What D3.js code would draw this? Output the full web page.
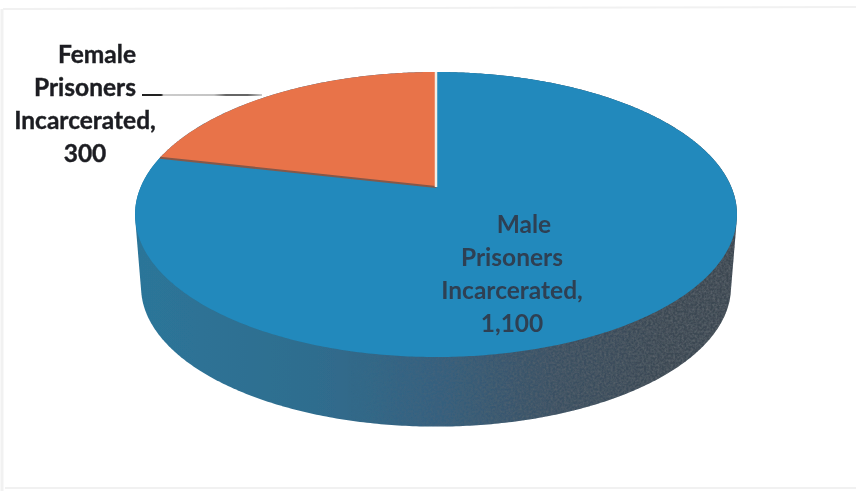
<!DOCTYPE html>
<html>
<head>
<meta charset="utf-8">
<script src="https://cdn.jsdelivr.net/npm/d3@7"></script>
<style>
  html, body { margin: 0; padding: 0; background: #fff; }
  svg { display: block; }
</style>
</head>
<body>
<div id="chart"></div>
<script>
const categories = ["Male Prisoners Incarcerated", "Female Prisoners Incarcerated"];
const values = [1100, 300];
const maleLabel = ["Male", "Prisoners", "Incarcerated,", "1,100"];
const femaleLabel = ["Female", "Prisoners", "Incarcerated,", "300"];

const width = 856, height = 491;
const cx = 436, cy = 187;
const radiusX = 295.3, radiusY = 137.2, tilt = 0.193;
const depth = 70, baseScale = 0.98;

const svg = d3.select("#chart").append("svg")
  .attr("width", width)
  .attr("height", height);

const defs = svg.append("defs");
const sideGrad = defs.append("linearGradient")
  .attr("id", "side")
  .attr("gradientUnits", "userSpaceOnUse")
  .attr("x1", 135).attr("x2", 738).attr("y1", 0).attr("y2", 0);
[[0, "#2c7599"], [0.3, "#2f6d8e"], [0.5, "#35607f"], [0.7, "#3a5063"], [0.88, "#3b4853"], [1, "#3b4650"]]
  .forEach(d => sideGrad.append("stop").attr("offset", d[0]).attr("stop-color", d[1]));
defs.append("filter").attr("id", "scan")
  .append("feGaussianBlur").attr("stdDeviation", 0.45);
defs.append("filter").attr("id", "soft")
  .append("feGaussianBlur").attr("stdDeviation", 0.5);

// speckle on the dark end of the wall, it fades out towards the left
const noiseFade = defs.append("linearGradient")
  .attr("id", "noiseFade")
  .attr("gradientUnits", "userSpaceOnUse")
  .attr("x1", 135).attr("x2", 738).attr("y1", 0).attr("y2", 0);
[[0.35, 0], [0.7, 0.7], [1, 1]]
  .forEach(d => noiseFade.append("stop").attr("offset", d[0]).attr("stop-color", "#000").attr("stop-opacity", d[1]));
const speckle = defs.append("filter").attr("id", "speckle")
  .attr("x", 0).attr("y", 0).attr("width", 1).attr("height", 1);
speckle.append("feTurbulence").attr("type", "fractalNoise").attr("baseFrequency", 0.45).attr("numOctaves", 2).attr("seed", 4);
speckle.append("feColorMatrix").attr("type", "matrix")
  .attr("values", "0 0 0 0 0.12  0 0 0 0 0.14  0 0 0 0 0.16  1.6 0 0 0 -0.5");
speckle.append("feComposite").attr("in2", "SourceAlpha").attr("operator", "in");

// perspective projection of the tilted disc, angle clockwise from 12 o'clock
const project = (a) => {
  const u = Math.sin(a), v = -Math.cos(a);
  const w = 1 - tilt * v;
  return [cx + radiusX * u / w, cy + radiusY * v / w];
};
const projectBase = (a) => {
  const p = project(a);
  return [cx + (p[0] - cx) * baseScale, cy + depth + (p[1] - cy) * baseScale + 3];
};
const samples = (a0, a1) => {
  const n = Math.ceil(Math.abs(a1 - a0) / 0.01);
  return d3.range(n + 1).map(i => a0 + (a1 - a0) * i / n);
};
const line = d3.line().curve(d3.curveLinear);

const arcs = d3.pie().sort(null)(values);
const colors = d3.scaleOrdinal().domain(categories).range(["#2089bc", "#e8734a"]);

// frame left over from the scan
const frame = svg.append("g").attr("stroke", "#f1f1f1").attr("fill", "none");
frame.append("path").attr("d", line([[3, 9], [856, 7]])).attr("stroke-width", 2);
frame.append("path").attr("d", line([[2, 9], [2, 491]])).attr("stroke-width", 3);
frame.append("path").attr("d", line([[5, 488], [856, 488]])).attr("stroke-width", 2);

const marks = svg.append("g").attr("filter", "url(#soft)");

// side wall: hull of the top rim and the base rim
const ring = samples(0, Math.PI * 2);
const wall = line(d3.polygonHull(ring.map(a => project(a)).concat(ring.map(projectBase)))) + "Z";
marks.append("path").attr("d", wall).attr("fill", "url(#side)");
marks.append("path").attr("d", wall).attr("fill", "url(#noiseFade)").attr("filter", "url(#speckle)");

// top face
marks.append("g").selectAll("path")
  .data(arcs)
  .join("path")
  .attr("d", d => line([[cx, cy]].concat(samples(d.startAngle, d.endAngle).map(a => project(a)))) + "Z")
  .attr("fill", (d, i) => colors(categories[i]));

// slice edges
const femaleStart = arcs[1].startAngle;
marks.append("path")
  .attr("d", line([[cx, cy], project(femaleStart)]))
  .attr("stroke", "#85584a").attr("stroke-width", 2).attr("fill", "none");
marks.append("path")
  .attr("d", line([[cx, cy], project(0)]))
  .attr("stroke", "#f3efe6").attr("stroke-width", 2.5).attr("fill", "none");

// leader line
const leader = defs.append("linearGradient").attr("id", "leader")
  .attr("gradientUnits", "userSpaceOnUse")
  .attr("x1", 142).attr("x2", 262).attr("y1", 0).attr("y2", 0);
[[0, "#222"], [0.16, "#222"], [0.18, "#ccc"], [0.6, "#c4c4c4"], [0.7, "#666"], [0.88, "#666"], [1, "#ccc"]]
  .forEach(d => leader.append("stop").attr("offset", d[0]).attr("stop-color", d[1]));
svg.append("rect")
  .attr("x", 142).attr("y", 94).attr("width", 120).attr("height", 2)
  .attr("fill", "url(#leader)");

const labels = svg.append("g")
  .attr("font-family", "Lato, 'Open Sans', sans-serif")
  .attr("text-anchor", "middle")
  .attr("filter", "url(#scan)");

labels.append("g")
  .attr("font-size", 24.5).attr("font-weight", 700).attr("fill", "#1d1f22")
  .attr("stroke", "#1d1f22").attr("stroke-width", 0.4)
  .selectAll("text").data(femaleLabel).join("text")
  .attr("x", (d, i) => i === 0 ? 97 : 85)
  .attr("y", (d, i) => 63 + i * 33)
  .text(d => d);

labels.append("g")
  .attr("font-size", 24.5).attr("font-weight", 700).attr("fill", "#2f3f52")
  .selectAll("text").data(maleLabel).join("text")
  .attr("x", (d, i) => i === 0 ? 524 : 512)
  .attr("y", (d, i) => 233 + i * 33)
  .text(d => d);
</script>
</body>
</html>
